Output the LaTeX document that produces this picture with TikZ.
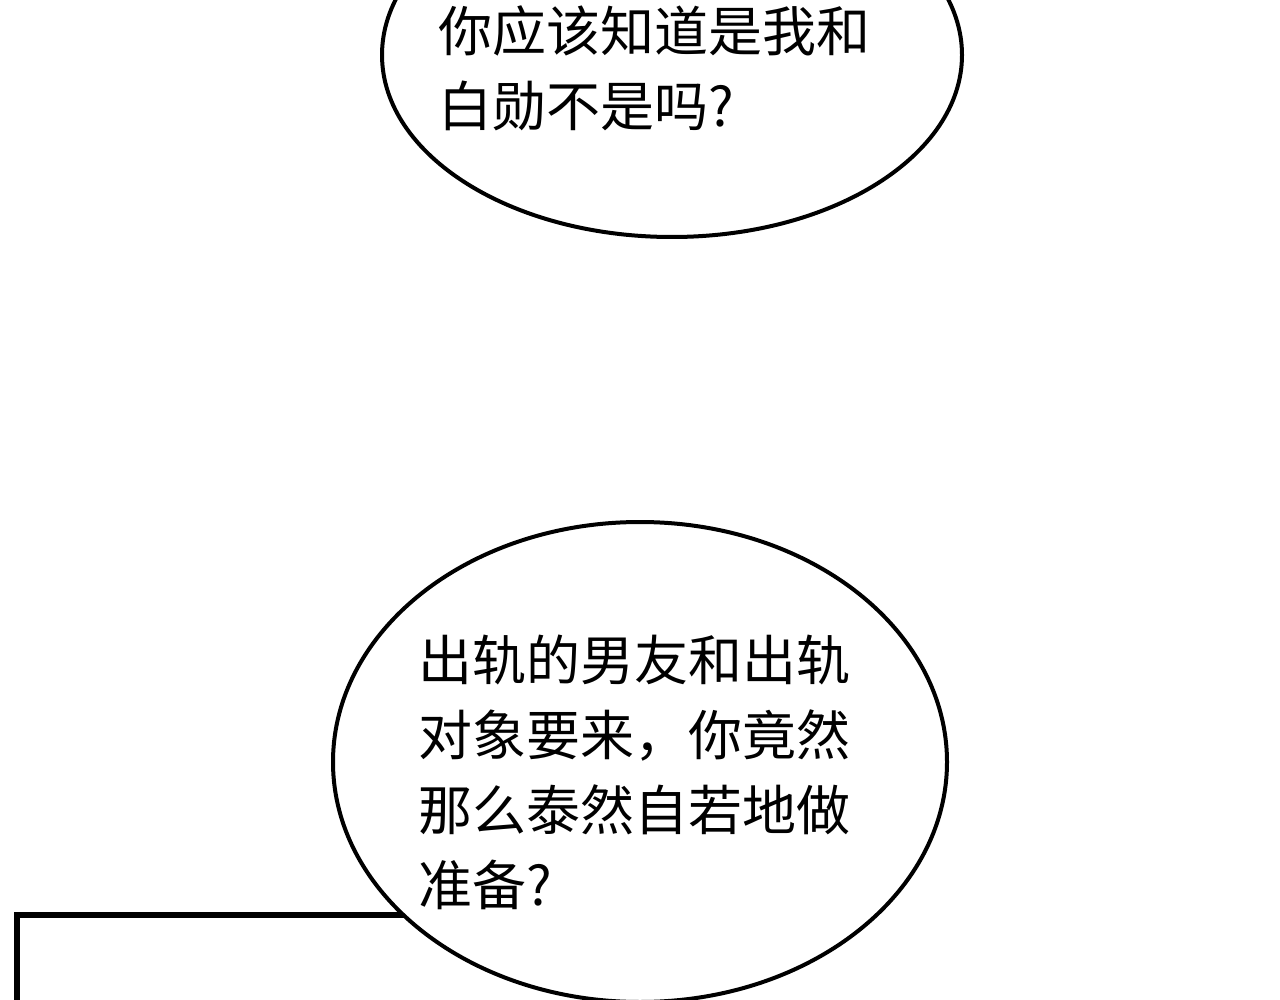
\documentclass[tikz,border=0pt]{standalone}
\usepackage{fontspec}
\newfontfamily\cjk{Noto Sans CJK SC}
\begin{document}
\begin{tikzpicture}[x=1pt,y=-1pt,
  bubble/.style={draw=black,line width=4pt,fill=white},
  speech/.style={font=\cjk\fontsize{54}{75}\selectfont,align=left,anchor=west,inner sep=0pt}]
\useasboundingbox (0,0) rectangle (1280,1000);
\clip (0,0) rectangle (1280,1000);
\fill[white] (0,0) rectangle (1280,1000);
\draw[line width=6pt] (17,1010) -- (17,915) -- (430,915);
\draw[bubble] (672,55) ellipse [x radius=290, y radius=182];
\draw[bubble] (640,762) ellipse [x radius=307, y radius=240];
\node[speech] (t1) at (438,68) {你应该知道是我和\\白勋不是吗?};
\node[speech] (t2) at (418,772) {出轨的男友和出轨\\对象要来，你竟然\\那么泰然自若地做\\准备?};
\end{tikzpicture}
\end{document}
